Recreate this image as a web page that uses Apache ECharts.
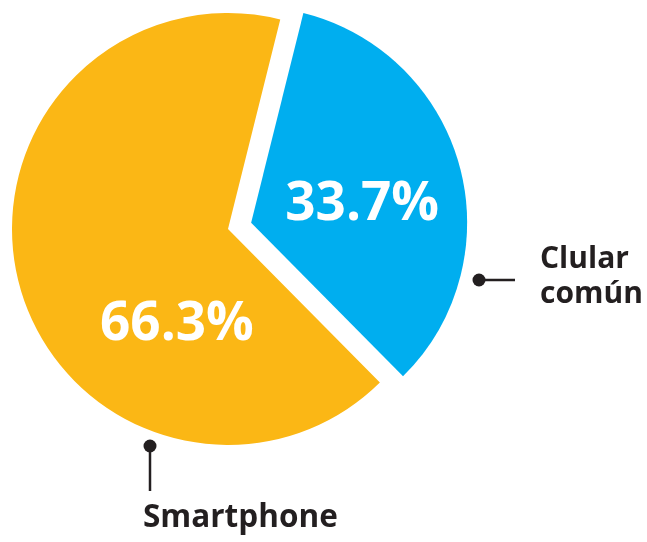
<!DOCTYPE html>
<html>
<head>
<meta charset="utf-8">
<script src="https://cdn.jsdelivr.net/npm/echarts@6/dist/echarts.min.js"></script>
<style>
html,body{margin:0;padding:0;background:#fff;}
#chart{width:647px;height:542px;}
</style>
</head>
<body>
<div id="chart"></div>
<script>
const categories = ['Clular común', 'Smartphone'];
const values = [33.7, 66.3];
const colors = ['#00AEEF', '#FBB715'];
const valueLabels = ['33.7%', '66.3%'];

const chart = echarts.init(document.getElementById('chart'), null, {renderer: 'canvas'});
const labelShift = [[4, 12], [56, 67]];
const ink = '#231F20';
const font = '"Open Sans", "Noto Sans", sans-serif';

chart.setOption({
  animation: false,
  series: [{
    type: 'pie',
    center: [228, 229],
    radius: [0, 216],
    startAngle: 76,
    clockwise: true,
    selectedMode: 'single',
    selectedOffset: 24,
    label: {
      show: true,
      position: 'inside',
      color: '#fff',
      fontFamily: font,
      fontWeight: 'bold',
      fontSize: 53,
      formatter: p => valueLabels[p.dataIndex]
    },
    labelLine: {show: false},
    labelLayout: p => ({dx: labelShift[p.dataIndex][0], dy: labelShift[p.dataIndex][1]}),
    itemStyle: {borderWidth: 0},
    emphasis: {disabled: true},
    data: categories.map((c, i) => ({
      name: c,
      value: values[i],
      selected: i === 0,
      itemStyle: {color: colors[i]}
    }))
  }],
  graphic: [
    {type: 'line', shape: {x1: 479, y1: 280, x2: 515, y2: 280}, style: {stroke: ink, lineWidth: 2.5}},
    {type: 'circle', shape: {cx: 479, cy: 280, r: 6.5}, style: {fill: ink}},
    {type: 'text', x: 540, y: 242, style: {text: 'Clular\ncomún', fill: ink, font: 'bold 30px ' + font, lineHeight: 35}},
    {type: 'line', shape: {x1: 150, y1: 446, x2: 150, y2: 491}, style: {stroke: ink, lineWidth: 2.5}},
    {type: 'circle', shape: {cx: 150, cy: 446, r: 6.5}, style: {fill: ink}},
    {type: 'text', x: 143, y: 502, style: {text: 'Smartphone', fill: ink, font: 'bold 31.5px ' + font}}
  ]
});
</script>
</body>
</html>
